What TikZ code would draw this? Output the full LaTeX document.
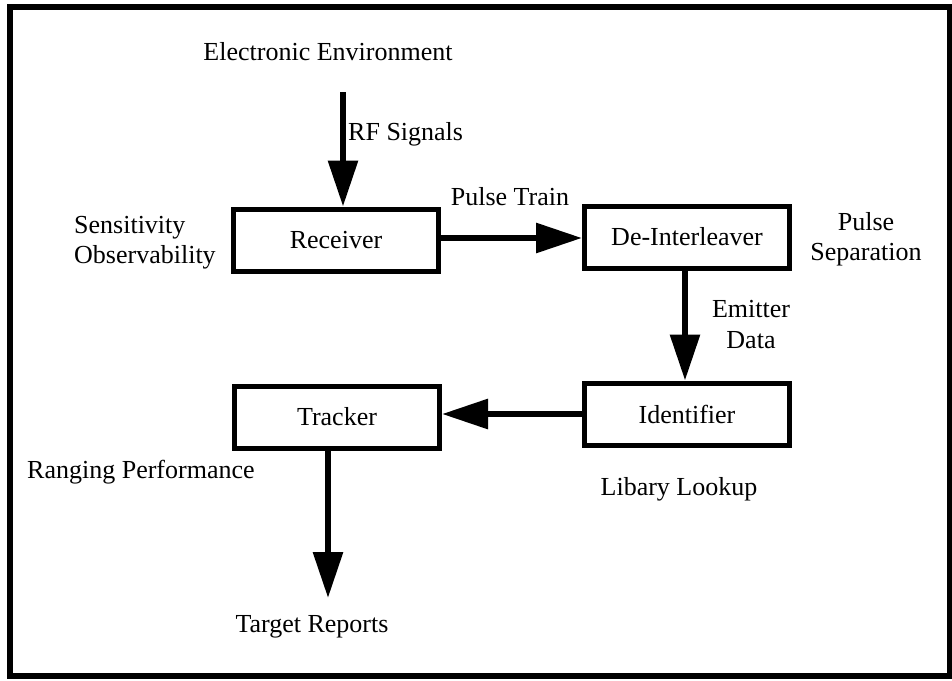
\documentclass[tikz,border=0pt]{standalone}
\usepackage{fontspec}
\setmainfont{Liberation Serif}
\usetikzlibrary{arrows.meta}
\begin{document}
\begin{tikzpicture}[x=1pt,y=-1pt,
  every node/.style={font=\fontsize{26}{30}\selectfont},
  blk/.style={draw=black, line width=5pt, minimum width=205pt, minimum height=62pt, inner sep=0pt},
  lbl/.style={anchor=base, inner sep=0pt},
  lbll/.style={anchor=base west, inner sep=0pt},
  flow/.style={line width=6pt, -{Triangle[length=46pt,width=29pt]}}
]
\useasboundingbox (0,0) rectangle (952,680);
\draw[line width=6pt] (10,7) rectangle (950,676);

\node[blk] (rec) at (336,240) {Receiver};
\node[blk] (dei) at (687,237) {De-Interleaver};
\node[blk] (ide) at (687,414) {Identifier};
\node[blk] (trk) at (337,417) {Tracker};

\node[lbl] (env) at (328,60) {Electronic Environment};
\node[lbll] (rf) at (348,140) {RF Signals};
\node[lbl] (pt) at (510,205) {Pulse Train};
\node[lbll] (sens) at (74,233) {Sensitivity};
\node[lbll] (obs) at (74,263) {Observability};
\node[lbl] (ps1) at (866,230) {Pulse};
\node[lbl] (ps2) at (866,260) {Separation};
\node[lbl] (em1) at (751,317) {Emitter};
\node[lbl] (em2) at (751,348) {Data};
\node[lbll] (rng) at (27,478) {Ranging Performance};
\node[lbl] (lib) at (679,495) {Libary Lookup};
\node[lbl] (tgt) at (312,632) {Target Reports};

\coordinate (rftop) at (343,92);
\coordinate (tgttip) at (328,598);

\draw[flow] (rftop) -- (rftop |- rec.north);
\draw[flow] (rec.east |- 0,238) -- (dei.west |- 0,238);
\draw[flow] (dei.south -| 685,0) -- (ide.north -| 685,0);
\draw[flow] (ide.west |- 0,414) -- (trk.east |- 0,414);
\draw[flow] (trk.south -| tgttip) -- (tgttip);
\end{tikzpicture}
\end{document}
